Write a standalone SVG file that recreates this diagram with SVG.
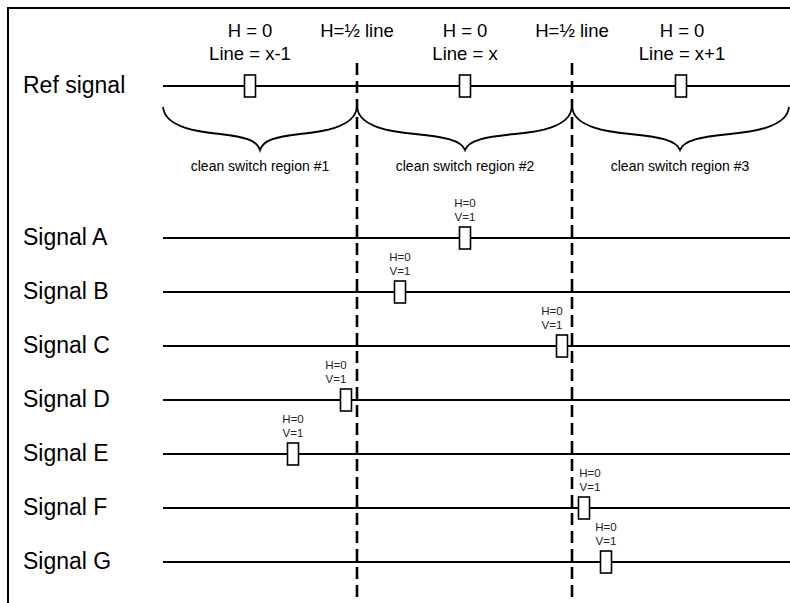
<svg xmlns="http://www.w3.org/2000/svg" width="790" height="603" viewBox="0 0 790 603">
<style>
text{font-family:"Liberation Sans",Arial,sans-serif;fill:#000}
.sig{font-size:23px}
.top{font-size:18.5px;text-anchor:middle}
.reg{font-size:14px;text-anchor:middle}
.sm{font-size:11.5px;text-anchor:middle;fill:#222}
.ln{stroke:#000;stroke-width:2;fill:none}
.box{fill:#fff;stroke:#000;stroke-width:1.6}
.dash{stroke:#000;stroke-width:2.6;stroke-dasharray:12 6;fill:none}
.brace{stroke:#000;stroke-width:1.8;fill:none}
</style>
<rect width="790" height="603" fill="#fff"/>
<g id="frame">
<path class="ln" d="M8,603 V8 H790"/>
</g>
<g id="header">
<text class="top" x="250" y="37">H = 0</text>
<text class="top" x="250" y="60">Line = x-1</text>
<text class="top" x="357" y="37">H=½ line</text>
<text class="top" x="465" y="37">H = 0</text>
<text class="top" x="465" y="60">Line = x</text>
<text class="top" x="572" y="37">H=½ line</text>
<text class="top" x="682" y="37">H = 0</text>
<text class="top" x="682" y="60">Line = x+1</text>
</g>
<g id="connectors">
<line class="dash" x1="357" y1="63" x2="357" y2="603"/>
<line class="dash" x1="572" y1="63" x2="572" y2="603"/>
</g>
<g id="ref">
<text class="sig" x="23" y="93">Ref signal</text>
<line class="ln" x1="163" y1="86" x2="790" y2="86"/>
<rect class="box" x="244.5" y="75" width="11" height="22"/>
<rect class="box" x="459.5" y="75" width="11" height="22"/>
<rect class="box" x="675.5" y="75" width="11" height="22"/>
</g>
<g id="regions">
<path class="brace" d="M163,107 C165,128 200,132 220,134 C245,137 257,140 260,150 C263,140 275,137 300,134 C320,132 355,128 357,107"/>
<path class="brace" d="M357,107 C359,128 394,132 415,134 C445,137 461,140 465,150 C469,140 485,137 515,134 C536,132 570,128 572,107"/>
<path class="brace" d="M572,107 C574,128 610,132 630,134 C660,137 676,140 680,150 C684,140 700,137 730,134 C750,132 787,128 789,107"/>
<text class="reg" x="260" y="171">clean switch region #1</text>
<text class="reg" x="465" y="171">clean switch region #2</text>
<text class="reg" x="680" y="171">clean switch region #3</text>
</g>
<g id="signalA">
<text class="sig" x="23" y="245">Signal A</text>
<line class="ln" x1="163" y1="238" x2="790" y2="238"/>
<rect class="box" x="459.5" y="227" width="11" height="22"/>
<text class="sm" x="465" y="207">H=0</text><text class="sm" x="465" y="221">V=1</text>
</g>
<g id="signalB">
<text class="sig" x="23" y="299">Signal B</text>
<line class="ln" x1="163" y1="292" x2="790" y2="292"/>
<rect class="box" x="394.5" y="281" width="11" height="22"/>
<text class="sm" x="400" y="261">H=0</text><text class="sm" x="400" y="275">V=1</text>
</g>
<g id="signalC">
<text class="sig" x="23" y="353">Signal C</text>
<line class="ln" x1="163" y1="346" x2="790" y2="346"/>
<rect class="box" x="556.5" y="335" width="11" height="22"/>
<text class="sm" x="552" y="315">H=0</text><text class="sm" x="552" y="329">V=1</text>
</g>
<g id="signalD">
<text class="sig" x="23" y="407">Signal D</text>
<line class="ln" x1="163" y1="400" x2="790" y2="400"/>
<rect class="box" x="340.5" y="389" width="11" height="22"/>
<text class="sm" x="336" y="369">H=0</text><text class="sm" x="336" y="383">V=1</text>
</g>
<g id="signalE">
<text class="sig" x="23" y="461">Signal E</text>
<line class="ln" x1="163" y1="454" x2="790" y2="454"/>
<rect class="box" x="287.5" y="443" width="11" height="22"/>
<text class="sm" x="293" y="423">H=0</text><text class="sm" x="293" y="437">V=1</text>
</g>
<g id="signalF">
<text class="sig" x="23" y="515">Signal F</text>
<line class="ln" x1="163" y1="508" x2="790" y2="508"/>
<rect class="box" x="578.5" y="497" width="11" height="22"/>
<text class="sm" x="590" y="477">H=0</text><text class="sm" x="590" y="491">V=1</text>
</g>
<g id="signalG">
<text class="sig" x="23" y="569">Signal G</text>
<line class="ln" x1="163" y1="562" x2="790" y2="562"/>
<rect class="box" x="600.5" y="551" width="11" height="22"/>
<text class="sm" x="606" y="531">H=0</text><text class="sm" x="606" y="545">V=1</text>
</g>
</svg>
